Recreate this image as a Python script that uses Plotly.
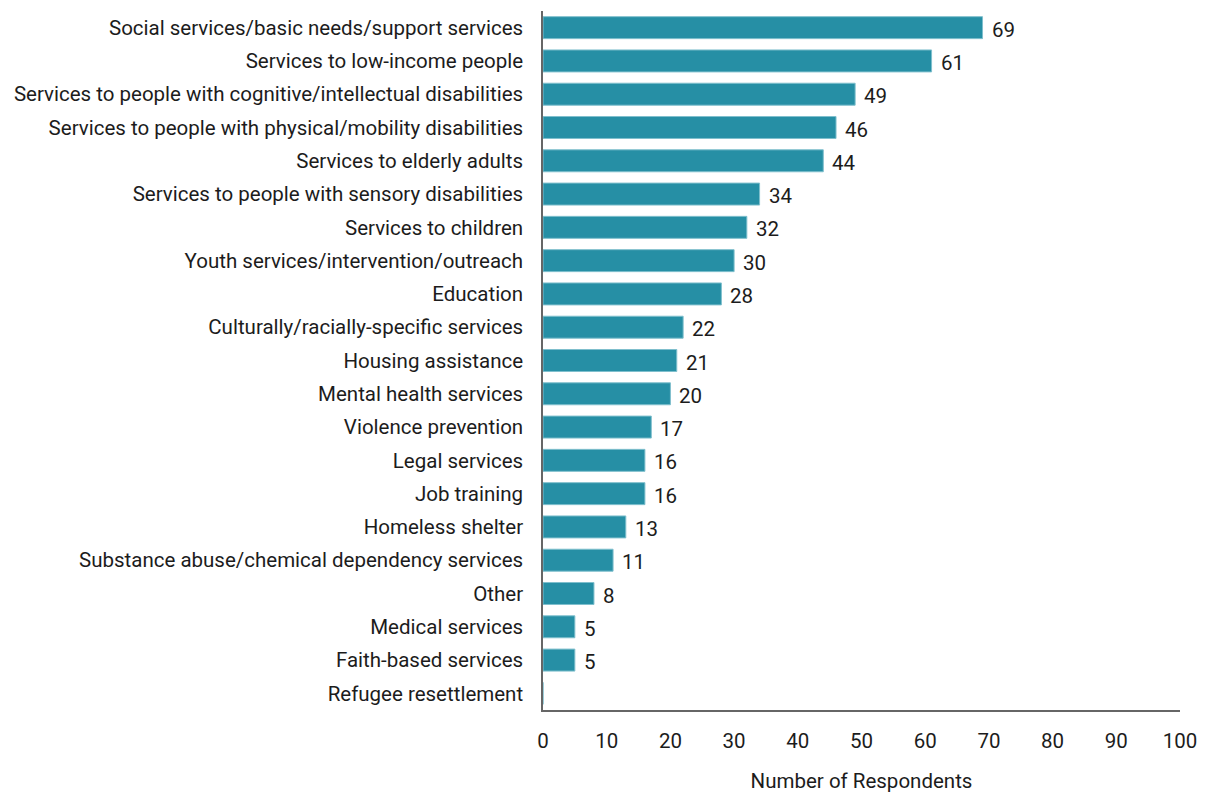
import plotly.graph_objects as go

# Service areas of respondents, listed top to bottom
categories = [
    "Social services/basic needs/support services",
    "Services to low-income people",
    "Services to people with cognitive/intellectual disabilities",
    "Services to people with physical/mobility disabilities",
    "Services to elderly adults",
    "Services to people with sensory disabilities",
    "Services to children",
    "Youth services/intervention/outreach",
    "Education",
    "Culturally/racially-specific services",
    "Housing assistance",
    "Mental health services",
    "Violence prevention",
    "Legal services",
    "Job training",
    "Homeless shelter",
    "Substance abuse/chemical dependency services",
    "Other",
    "Medical services",
    "Faith-based services",
    "Refugee resettlement",
]
respondents = [69, 61, 49, 46, 44, 34, 32, 30, 28, 22, 21, 20, 17, 16, 16, 13, 11, 8, 5, 5, 0]
x_ticks = [0, 10, 20, 30, 40, 50, 60, 70, 80, 90, 100]

BAR = "#268fa5"
TEXT = "#1c1c1c"
FONT = "Roboto"
SIZE = 20.5

fig = go.Figure(
    go.Bar(
        x=respondents,
        y=categories,
        orientation="h",
        marker=dict(color=BAR, line=dict(color="#7fbfcd", width=1)),
        width=0.66,
        hoverinfo="x+y",
    )
)

# value labels beside each bar (none for zero)
for cat, val in zip(categories, respondents):
    if val > 0:
        fig.add_annotation(
            x=val, y=cat, text=str(val), showarrow=False,
            xanchor="left", yanchor="middle", xshift=7, yshift=-2,
            font=dict(family=FONT, size=SIZE, color=TEXT),
        )

fig.update_layout(
    width=1205, height=793,
    margin=dict(l=543, r=25, t=11, b=83),
    plot_bgcolor="white", paper_bgcolor="white",
    font=dict(family=FONT, size=SIZE, color=TEXT),
    showlegend=False,
)
fig.update_xaxes(
    range=[0, 100], tickvals=x_ticks, showgrid=False, zeroline=False,
    showline=True, linecolor="#666666", linewidth=1.5, automargin=False,
    ticks="outside", ticklen=12, tickcolor="rgba(0,0,0,0)",
    tickfont=dict(family=FONT, size=SIZE, color=TEXT),
    title=dict(text="Number of Respondents", standoff=22,
               font=dict(family=FONT, size=SIZE, color=TEXT)),
)
fig.update_yaxes(
    categoryorder="array", categoryarray=categories, autorange="reversed",
    showgrid=False, zeroline=False, automargin=False,
    showline=True, linecolor="#666666", linewidth=1.5,
    ticks="outside", ticklen=14, tickcolor="rgba(0,0,0,0)",
    tickfont=dict(family=FONT, size=SIZE, color=TEXT),
)

fig.write_html("out.html")
